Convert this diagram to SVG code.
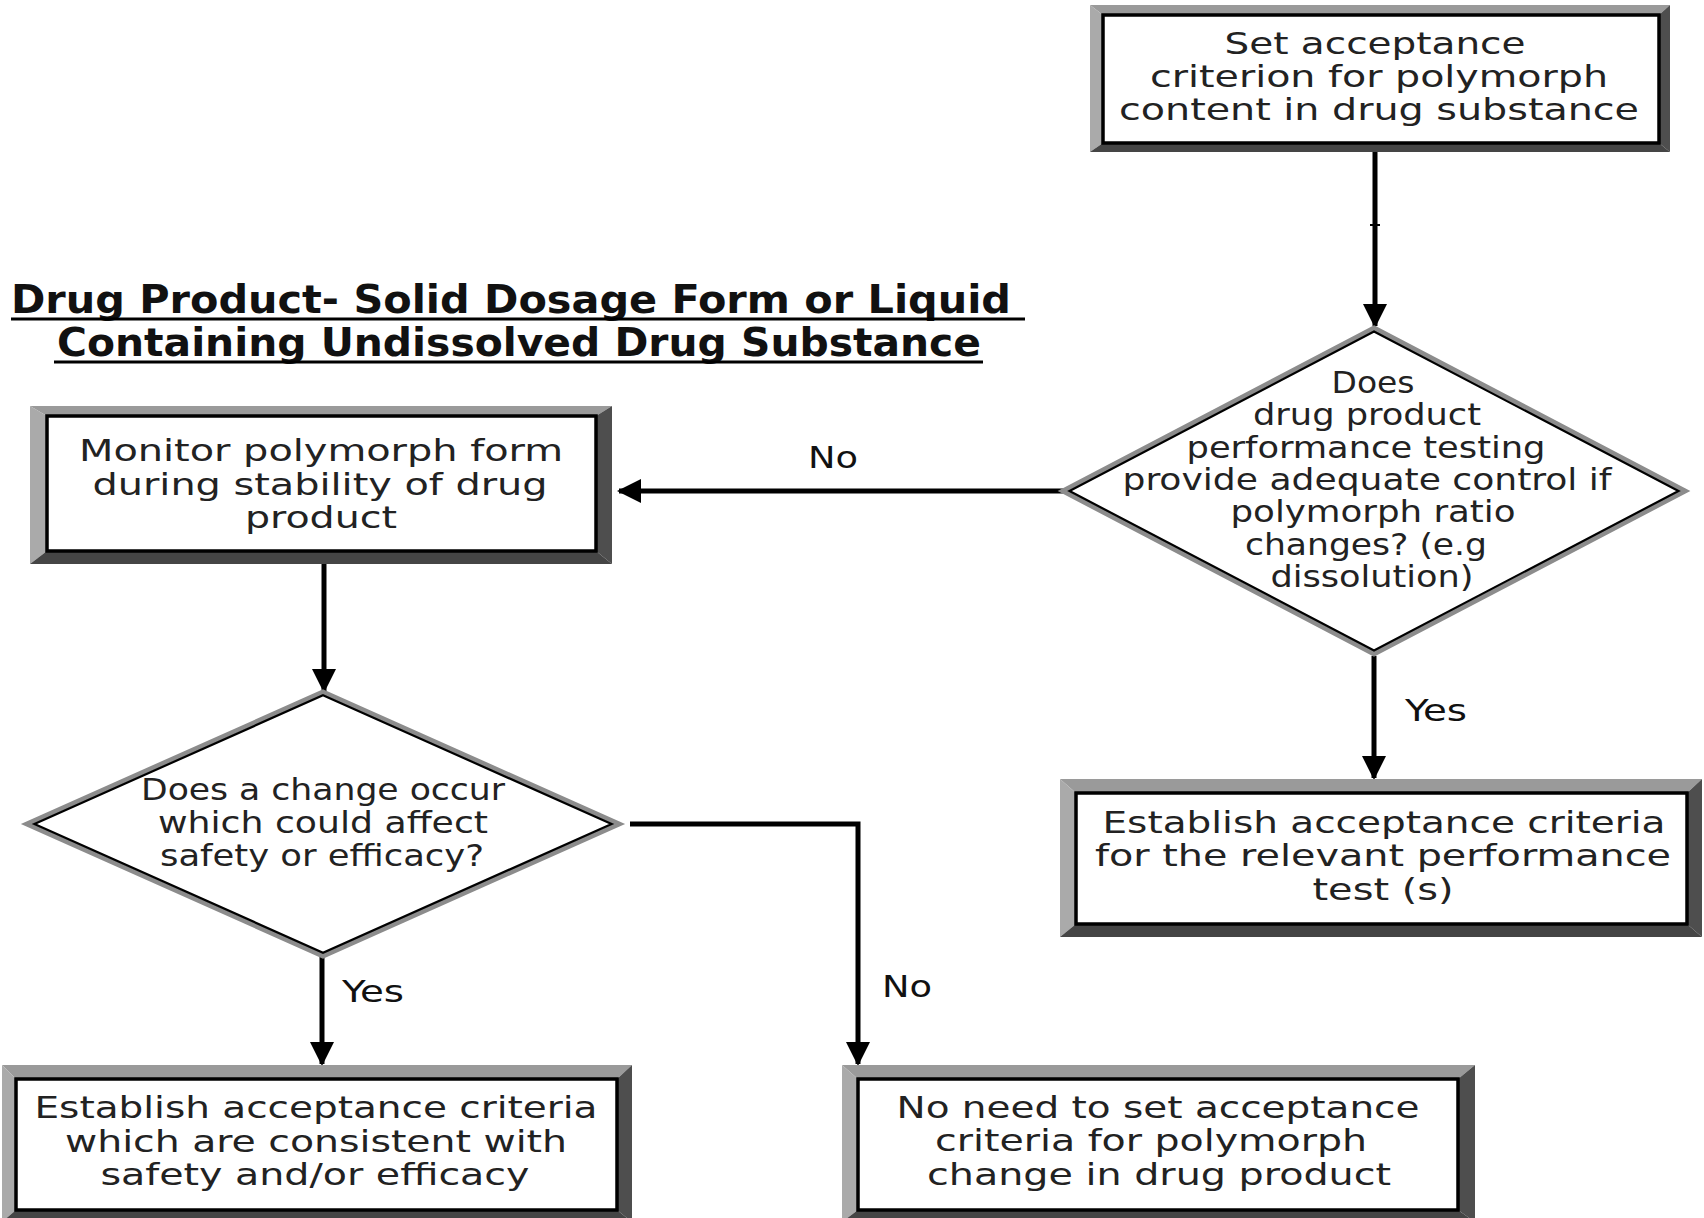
<svg xmlns="http://www.w3.org/2000/svg" width="1704" height="1218" viewBox="0 0 1704 1218">
<style>
  .bg{fill:#ffffff}
  .ft{fill:#9a9a9a}
  .fl{fill:#aaaaaa}
  .fr{fill:#4e4e4e}
  .fb{fill:#454545}
  .inner{fill:#ffffff;stroke:#000;stroke-width:3.5}
  .dout{fill:#ffffff;stroke:#8c8c8c;stroke-width:5;stroke-linejoin:miter}
  .din{fill:none;stroke:#000;stroke-width:2.2}
  .wide{font-family:"DejaVu Sans","Verdana",sans-serif;font-size:30px;fill:#222;text-anchor:middle}
  .cond{font-family:"DejaVu Sans Condensed","DejaVu Sans",sans-serif;font-size:30px;fill:#222;text-anchor:middle}
  .lbl{font-family:"DejaVu Sans Condensed","DejaVu Sans",sans-serif;font-size:30px;fill:#111;text-anchor:middle}
  .title{font-family:"DejaVu Sans Condensed","DejaVu Sans",sans-serif;font-size:39px;font-weight:bold;fill:#111}
  .ul{stroke:#000;stroke-width:3}
  .conn{fill:none;stroke:#000;stroke-width:5}
</style>
<defs>
  <marker id="ah" markerUnits="userSpaceOnUse" markerWidth="26" markerHeight="26" viewBox="0 0 26 26" refX="22" refY="13" orient="auto">
    <path d="M0,1 L24,13 L0,25 Z" fill="#000"/>
  </marker>
</defs>
<rect class="bg" x="0" y="0" width="1704" height="1218"/>

<g id="title">
  <text class="title" x="11" y="313" textLength="1000" lengthAdjust="spacingAndGlyphs">Drug Product- Solid Dosage Form or Liquid</text>
  <line class="ul" x1="11" y1="319" x2="1025" y2="319"/>
  <text class="title" x="57" y="356" textLength="924" lengthAdjust="spacingAndGlyphs">Containing Undissolved Drug Substance</text>
  <line class="ul" x1="54" y1="362" x2="983" y2="362"/>
</g>

<g id="connectors">
  <line class="conn" x1="1375" y1="152" x2="1375" y2="326" marker-end="url(#ah)"/>
  <line x1="1370" y1="225" x2="1380" y2="225" stroke="#000" stroke-width="2"/>
  <line class="conn" x1="1063" y1="491" x2="619" y2="491" marker-end="url(#ah)"/>
  <line class="conn" x1="1374" y1="656" x2="1374" y2="778" marker-end="url(#ah)"/>
  <line class="conn" x1="324" y1="564" x2="324" y2="691" marker-end="url(#ah)"/>
  <line class="conn" x1="322" y1="957" x2="322" y2="1064" marker-end="url(#ah)"/>
  <polyline class="conn" points="630,824 858,824 858,1064" marker-end="url(#ah)"/>
  <text class="lbl" x="833" y="468" textLength="50" lengthAdjust="spacingAndGlyphs">No</text>
  <text class="lbl" x="1436" y="721" textLength="62" lengthAdjust="spacingAndGlyphs">Yes</text>
  <text class="lbl" x="373" y="1002" textLength="62" lengthAdjust="spacingAndGlyphs">Yes</text>
  <text class="lbl" x="907" y="997" textLength="50" lengthAdjust="spacingAndGlyphs">No</text>
</g>

<g id="set-acceptance">
  <polygon class="ft" points="1090,5 1670,5 1659,15 1103,15"/>
  <polygon class="fl" points="1090,5 1103,15 1103,143 1090,152"/>
  <polygon class="fr" points="1670,5 1670,152 1659,143 1659,15"/>
  <polygon class="fb" points="1090,152 1103,143 1659,143 1670,152"/>
  <rect class="inner" x="1103" y="15" width="556" height="128"/>
  <text class="wide" x="1375" y="54" textLength="301" lengthAdjust="spacingAndGlyphs">Set acceptance</text>
  <text class="wide" x="1379" y="87" textLength="458" lengthAdjust="spacingAndGlyphs">criterion for polymorph</text>
  <text class="wide" x="1379" y="120" textLength="520" lengthAdjust="spacingAndGlyphs">content in drug substance</text>
</g>

<g id="decision-performance">
  <polygon class="dout" points="1374,328 1685,491 1374,654 1063,491"/>
  <polygon class="din" points="1374,331.5 1678.5,491 1374,650.5 1069.5,491"/>
  <text class="cond" x="1373" y="393" textLength="83" lengthAdjust="spacingAndGlyphs">Does</text>
  <text class="cond" x="1367" y="425" textLength="228" lengthAdjust="spacingAndGlyphs">drug product</text>
  <text class="cond" x="1366" y="458" textLength="359" lengthAdjust="spacingAndGlyphs">performance testing</text>
  <text class="cond" x="1367" y="490" textLength="489" lengthAdjust="spacingAndGlyphs">provide adequate control if</text>
  <text class="cond" x="1373" y="522" textLength="285" lengthAdjust="spacingAndGlyphs">polymorph ratio</text>
  <text class="cond" x="1366" y="555" textLength="242" lengthAdjust="spacingAndGlyphs">changes? (e.g</text>
  <text class="cond" x="1372" y="587" textLength="203" lengthAdjust="spacingAndGlyphs">dissolution)</text>
</g>

<g id="monitor">
  <polygon class="ft" points="30,406 612,406 596,416 47,416"/>
  <polygon class="fl" points="30,406 47,416 47,551 30,564"/>
  <polygon class="fr" points="612,406 612,564 596,551 596,416"/>
  <polygon class="fb" points="30,564 47,551 596,551 612,564"/>
  <rect class="inner" x="47" y="416" width="549" height="135"/>
  <text class="cond" x="321" y="461" textLength="484" lengthAdjust="spacingAndGlyphs">Monitor polymorph form</text>
  <text class="cond" x="320" y="495" textLength="455" lengthAdjust="spacingAndGlyphs">during stability of drug</text>
  <text class="cond" x="321" y="528" textLength="152" lengthAdjust="spacingAndGlyphs">product</text>
</g>

<g id="decision-safety">
  <polygon class="dout" points="323,692 619,824 323,956 27,824"/>
  <polygon class="din" points="323,695.3 611.6,824 323,952.7 34.4,824"/>
  <text class="cond" x="323" y="800" textLength="364" lengthAdjust="spacingAndGlyphs">Does a change occur</text>
  <text class="cond" x="323" y="833" textLength="330" lengthAdjust="spacingAndGlyphs">which could affect</text>
  <text class="cond" x="322" y="866" textLength="324" lengthAdjust="spacingAndGlyphs">safety or efficacy?</text>
</g>

<g id="establish-performance">
  <polygon class="ft" points="1060,779 1702,779 1687,793 1076,793"/>
  <polygon class="fl" points="1060,779 1076,793 1076,924 1060,937"/>
  <polygon class="fr" points="1702,779 1702,937 1687,924 1687,793"/>
  <polygon class="fb" points="1060,937 1076,924 1687,924 1702,937"/>
  <rect class="inner" x="1076" y="793" width="611" height="131"/>
  <text class="wide" x="1384" y="833" textLength="563" lengthAdjust="spacingAndGlyphs">Establish acceptance criteria</text>
  <text class="wide" x="1383" y="866" textLength="576" lengthAdjust="spacingAndGlyphs">for the relevant performance</text>
  <text class="wide" x="1383" y="900" textLength="141" lengthAdjust="spacingAndGlyphs">test (s)</text>
</g>

<g id="establish-safety">
  <polygon class="ft" points="2,1065 632,1065 617,1079 16,1079"/>
  <polygon class="fl" points="2,1065 16,1079 16,1210 2,1222"/>
  <polygon class="fr" points="632,1065 632,1222 617,1210 617,1079"/>
  <polygon class="fb" points="2,1222 16,1210 617,1210 632,1222"/>
  <rect class="inner" x="16" y="1079" width="601" height="131"/>
  <text class="cond" x="316" y="1118" textLength="563" lengthAdjust="spacingAndGlyphs">Establish acceptance criteria</text>
  <text class="cond" x="316" y="1152" textLength="502" lengthAdjust="spacingAndGlyphs">which are consistent with</text>
  <text class="cond" x="315" y="1185" textLength="429" lengthAdjust="spacingAndGlyphs">safety and/or efficacy</text>
</g>

<g id="no-need">
  <polygon class="ft" points="842,1065 1475,1065 1458,1079 858,1079"/>
  <polygon class="fl" points="842,1065 858,1079 858,1210 842,1222"/>
  <polygon class="fr" points="1475,1065 1475,1222 1458,1210 1458,1079"/>
  <polygon class="fb" points="842,1222 858,1210 1458,1210 1475,1222"/>
  <rect class="inner" x="858" y="1079" width="600" height="131"/>
  <text class="wide" x="1158" y="1118" textLength="523" lengthAdjust="spacingAndGlyphs">No need to set acceptance</text>
  <text class="wide" x="1151" y="1151" textLength="432" lengthAdjust="spacingAndGlyphs">criteria for polymorph</text>
  <text class="wide" x="1159" y="1185" textLength="464" lengthAdjust="spacingAndGlyphs">change in drug product</text>
</g>
</svg>
